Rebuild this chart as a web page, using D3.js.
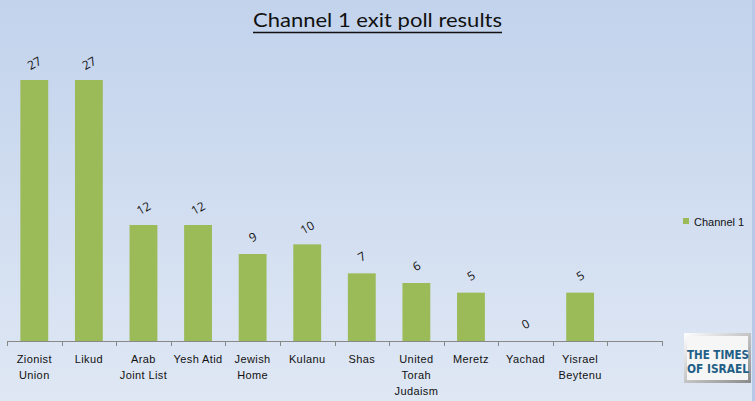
<!DOCTYPE html>
<html><head><meta charset="utf-8">
<script src="https://cdn.jsdelivr.net/npm/d3@7"></script>
<style>html,body{margin:0;padding:0;overflow:hidden;}svg{display:block;}</style>
</head><body>
<script>
const categories = [["Zionist","Union"],["Likud"],["Arab","Joint List"],["Yesh Atid"],["Jewish","Home"],["Kulanu"],["Shas"],["United","Torah","Judaism"],["Meretz"],["Yachad"],["Yisrael","Beytenu"],[""]];
const values = [27,27,12,12,9,10,7,6,5,0,5,null];
const seriesName = "Channel 1";
const title = "Channel 1 exit poll results";

const W=755,H=401;
const svg=d3.select("body").append("svg").attr("width",W).attr("height",H);
const defs=svg.append("defs");
const g1=defs.append("linearGradient").attr("id","bg").attr("x1",0).attr("y1",0).attr("x2",0).attr("y2",1);
g1.append("stop").attr("offset","0%").attr("stop-color","#c2d3ec");
g1.append("stop").attr("offset","100%").attr("stop-color","#dfe7f4");
svg.append("rect").attr("width",W).attr("height",H).attr("fill","url(#bg)");
svg.append("rect").attr("x",752).attr("y",0).attr("width",3).attr("height",H).attr("fill","#b7c9e6");

svg.append("text").attr("x",253).attr("y",27)
  .attr("font-family","Lato, 'Open Sans', sans-serif").attr("font-size",20).attr("fill","#111")
  .attr("textLength",249).attr("lengthAdjust","spacingAndGlyphs").text(title);
svg.append("line").attr("x1",253).attr("x2",502).attr("y1",32.5).attr("y2",32.5).attr("stroke","#111").attr("stroke-width",1.6);

const x=d3.scaleBand().domain(d3.range(categories.length)).range([7,662]).paddingInner(0.49).paddingOuter(0.245);
const y=d3.scaleLinear().domain([0,27]).range([341,80]);

svg.selectAll("rect.bar").data(values.map((v,i)=>({v,i})).filter(d=>d.v!==null)).enter().append("rect")
  .attr("x",d=>x(d.i)).attr("width",x.bandwidth()).attr("y",d=>y(d.v)).attr("height",d=>341-y(d.v)).attr("fill","#9bbb59");

svg.selectAll("text.lab").data(values.map((v,i)=>({v,i})).filter(d=>d.v!==null)).enter().append("text")
  .attr("transform",d=>`translate(${x(d.i)+x.bandwidth()/2},${y(d.v)-17}) rotate(-30)`)
  .attr("text-anchor","middle").attr("dominant-baseline","central")
  .attr("font-family","'Open Sans', sans-serif").attr("font-size",12).attr("fill","#111").text(d=>d.v);

const step=x.step();
const axisG=svg.append("g");
axisG.append("line").attr("x1",7).attr("x2",662).attr("y1",341.5).attr("y2",341.5).attr("stroke","#888").attr("stroke-width",1);
const tickX=d3.range(categories.length+1).map(i=>x(0)-x.step()*x.paddingOuter()+i*step);
axisG.selectAll("line.t").data(tickX).enter().append("line").attr("x1",d=>Math.round(d)+0.5).attr("x2",d=>Math.round(d)+0.5).attr("y1",341).attr("y2",346).attr("stroke","#888");

categories.forEach((c,i)=>{
  const t=svg.append("text").attr("text-anchor","middle").attr("font-family","'Liberation Sans', Arial, sans-serif").attr("font-size",11).attr("fill","#111");
  c.forEach((line,j)=>{t.append("tspan").attr("x",x(i)+x.bandwidth()/2).attr("y",363+j*16).attr("letter-spacing",0.4).text(line);});
});

svg.append("rect").attr("x",683).attr("y",218).attr("width",6).attr("height",6).attr("fill","#9bbb59");
svg.append("text").attr("x",694).attr("y",225.5).attr("font-family","'Liberation Sans', Arial, sans-serif").attr("font-size",11).attr("fill","#111").text(seriesName);

const lg=defs.append("linearGradient").attr("id","lg").attr("x1",0).attr("y1",0).attr("x2",1).attr("y2",1);
lg.append("stop").attr("offset","0%").attr("stop-color","#ffffff");
lg.append("stop").attr("offset","100%").attr("stop-color","#8a8a8a");
svg.append("rect").attr("x",684).attr("y",333).attr("width",67).attr("height",50).attr("fill","url(#lg)");
svg.append("rect").attr("x",687).attr("y",336).attr("width",61).attr("height",44).attr("fill","#f6f6f6");
const lt=svg.append("text").attr("font-family","'DejaVu Sans Condensed','Liberation Sans Narrow',sans-serif").attr("font-weight","bold").attr("font-size",12).attr("fill","#1f5f86");
lt.append("tspan").attr("x",687).attr("y",359).attr("textLength",62).attr("lengthAdjust","spacingAndGlyphs").text("THE TIMES");
lt.append("tspan").attr("x",687).attr("y",373).attr("textLength",62).attr("lengthAdjust","spacingAndGlyphs").text("OF ISRAEL");
</script>
</body></html>
